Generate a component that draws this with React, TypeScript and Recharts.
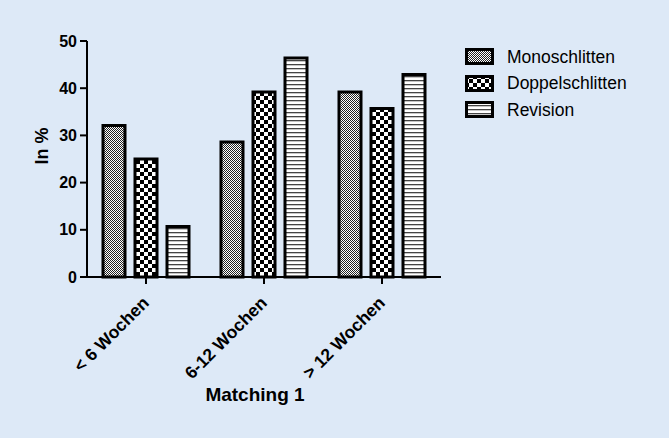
import { BarChart, Bar, XAxis, YAxis } from 'recharts';

const categories = ['< 6 Wochen', '6-12 Wochen', '> 12 Wochen'];
const mono = [32.1, 28.6, 39.2];
const doppel = [25.0, 39.2, 35.7];
const revision = [10.7, 46.4, 42.9];
const yTicks = [0, 10, 20, 30, 40, 50];

const seriesNames = ['Monoschlitten', 'Doppelschlitten', 'Revision'];
const patternIds = ['pMono', 'pDoppel', 'pRev'];

const data = categories.map((c, i) => ({
  name: c,
  mono: mono[i],
  doppel: doppel[i],
  revision: revision[i],
}));

const BG = '#dde9f7';
const FONT = '"Liberation Sans", Arial, sans-serif';

// hatch patterns like the Prism original
function Patterns({ prefix }: { prefix: string }) {
  return (
    <defs>
      <pattern id={prefix + 'pMono'} width="2" height="2" patternUnits="userSpaceOnUse">
        <rect width="2" height="2" fill="#fff" />
        <rect width="1" height="1" fill="#222" />
        <rect x="1" y="1" width="1" height="1" fill="#222" />
      </pattern>
      <pattern id={prefix + 'pDoppel'} width="8" height="8" patternUnits="userSpaceOnUse">
        <rect width="8" height="8" fill="#fff" />
        <rect width="4" height="4" fill="#000" />
        <rect x="4" y="4" width="4" height="4" fill="#000" />
      </pattern>
      <pattern id={prefix + 'pRev'} width="4" height="4" patternUnits="userSpaceOnUse">
        <rect width="4" height="4" fill="#fff" />
        <rect width="4" height="1.3" fill="#444" />
      </pattern>
    </defs>
  );
}

function XTick({ x, y, payload }: any) {
  return (
    <text
      x={x + 4}
      y={y + 18}
      transform={`rotate(-45, ${x + 4}, ${y + 18})`}
      textAnchor="end"
      fontFamily={FONT}
      fontWeight="bold"
      fontSize={17.5}
      fill="#000"
    >
      {payload.value}
    </text>
  );
}

function Legend() {
  return (
    <div style={{ position: 'absolute', left: 465, top: 44 }}>
      {seriesNames.map((n, i) => (
        <div key={n} style={{ display: 'flex', alignItems: 'center', height: 26.5 }}>
          <svg width={30} height={18} style={{ display: 'block' }}>
            <Patterns prefix="lg" />
            <rect x={1.5} y={1.5} width={26} height={14} fill={`url(#lg${patternIds[i]})`} stroke="#000" strokeWidth={3} />
          </svg>
          <span style={{ marginLeft: 12, fontFamily: FONT, fontSize: 17.5, color: '#000' }}>{n}</span>
        </div>
      ))}
    </div>
  );
}

export default function App() {
  return (
    <div style={{ position: 'relative', width: 669, height: 438, background: BG }}>
      <style>{`body{margin:0;background:${BG}}`}</style>
      <BarChart
        width={669}
        height={438}
        data={data}
        margin={{ top: 41, right: 228, bottom: 41, left: 27 }}
        barSize={22}
        barGap={10}
      >
        <Patterns prefix="" />
        <XAxis
          dataKey="name"
          height={120}
          tick={<XTick />}
          tickSize={7}
          axisLine={{ stroke: '#000', strokeWidth: 2 }}
          tickLine={{ stroke: '#000', strokeWidth: 2 }}
          interval={0}
          label={({ viewBox }: any) => (
            <text
              x={viewBox.x + viewBox.width / 2 - 9}
              y={viewBox.y + 124}
              textAnchor="middle"
              fontFamily={FONT}
              fontWeight="bold"
              fontSize={19}
              fill="#000"
            >
              Matching 1
            </text>
          )}
        />
        <YAxis
          width={60}
          domain={[0, 50]}
          ticks={yTicks}
          interval={0}
          tickSize={7}
          tickMargin={3}
          axisLine={{ stroke: '#000', strokeWidth: 2 }}
          tickLine={{ stroke: '#000', strokeWidth: 2 }}
          tick={{ fill: '#000', fontFamily: FONT, fontWeight: 'bold', fontSize: 16 }}
          label={({ viewBox }: any) => {
            const cx = viewBox.x + 15;
            const cy = viewBox.y + viewBox.height / 2 - 13;
            return (
              <text
                x={cx}
                y={cy}
                transform={`rotate(-90, ${cx}, ${cy})`}
                textAnchor="middle"
                dominantBaseline="central"
                fontFamily={FONT}
                fontWeight="bold"
                fontSize={18}
                fill="#000"
              >
                In %
              </text>
            );
          }}
        />
        <Bar dataKey="mono" name={seriesNames[0]} fill="url(#pMono)" stroke="#000" strokeWidth={3} isAnimationActive={false} />
        <Bar dataKey="doppel" name={seriesNames[1]} fill="url(#pDoppel)" stroke="#000" strokeWidth={3} isAnimationActive={false} />
        <Bar dataKey="revision" name={seriesNames[2]} fill="url(#pRev)" stroke="#000" strokeWidth={3} isAnimationActive={false} />
      </BarChart>
      <Legend />
    </div>
  );
}
